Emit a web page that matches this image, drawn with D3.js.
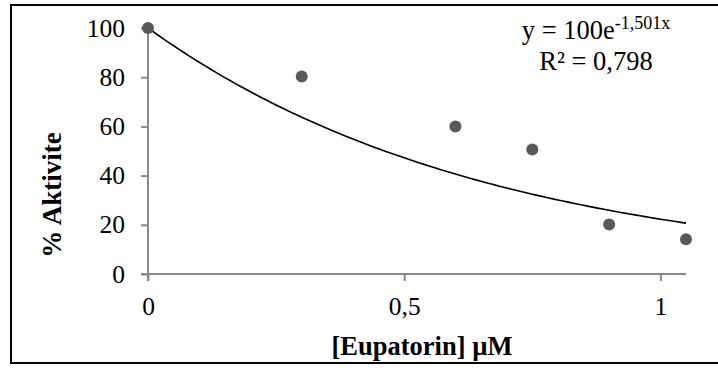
<!DOCTYPE html>
<html>
<head>
<meta charset="utf-8">
<script src="https://cdn.jsdelivr.net/npm/d3@7"></script>
<style>
  body { margin: 0; background: #fff; }
  svg { display: block; font-family: "Liberation Serif", "Times New Roman", serif; }
</style>
</head>
<body>
<svg id="chart"></svg>
<script>
// concentration (µM) and % activity
let concentrations = [0, 0.3, 0.6, 0.75, 0.9, 1.05];
let activity = [100, 80.3, 60, 50.6, 20.1, 14.1];
let xTicks = [0, 0.5, 1];
let yTicks = [0, 20, 40, 60, 80, 100];
let fitA = 100;
let fitB = -1.501;

let width = 718;
let height = 368;
let margin = { left: 148, right: 32, top: 28, bottom: 94 };

let svg = d3.select("#chart")
    .attr("width", width)
    .attr("height", height);

// outer frame (right edge runs off the picture)
svg.append("rect")
    .attr("x", 11)
    .attr("y", 5)
    .attr("width", width + 20)
    .attr("height", 358)
    .attr("fill", "none")
    .attr("stroke", "#000")
    .attr("stroke-width", 2);

let scaleX = d3.scaleLinear()
    .domain([0, 1.05])
    .range([margin.left, width - margin.right]);

let scaleY = d3.scaleLinear()
    .domain([0, 100])
    .range([height - margin.bottom, margin.top]);

let axisX = d3.axisBottom(scaleX)
    .tickValues(xTicks)
    .tickSize(7)
    .tickPadding(16)
    .tickFormat(d => String(d).replace(".", ","));

let axisY = d3.axisLeft(scaleY)
    .tickValues(yTicks)
    .tickSize(7)
    .tickPadding(16);

let gx = svg.append("g")
    .attr("transform", `translate(0, ${scaleY(0)})`)
    .call(axisX);

let gy = svg.append("g")
    .attr("transform", `translate(${scaleX(0)}, 0)`)
    .call(axisY);

[gx, gy].forEach(g => {
    g.select(".domain").attr("stroke", "#898989").attr("stroke-width", 2);
    g.selectAll(".tick line").attr("stroke", "#898989").attr("stroke-width", 2);
    g.selectAll(".tick text")
        .attr("fill", "#000")
        .style("font-family", "Liberation Serif")
        .style("font-size", "25.5px");
});
// excel axes: plain line without the d3 end caps
gx.select(".domain").attr("d", `M${scaleX(0) - 7},0H${scaleX(1.05)}`);
gy.select(".domain").attr("d", `M0,${scaleY(0) + 7}V${scaleY(100)}`);

// exponential trendline
let fitX = d3.range(0, 1.0501, 0.01);
let line = d3.line()
    .x(d => scaleX(d))
    .y(d => scaleY(fitA * Math.exp(fitB * d)));

svg.append("path")
    .datum(fitX)
    .attr("d", line)
    .attr("fill", "none")
    .attr("stroke", "#000")
    .attr("stroke-width", 1.6);

svg.append("g")
    .selectAll("circle")
    .data(concentrations)
    .join("circle")
    .attr("cx", d => scaleX(d))
    .attr("cy", (d, i) => scaleY(activity[i]))
    .attr("r", 6)
    .attr("fill", "#595959");

// equation label
let eq = svg.append("text")
    .attr("x", 596)
    .attr("y", 39)
    .attr("text-anchor", "middle")
    .style("font-size", "26.5px");
eq.append("tspan").text("y = 100e");
eq.append("tspan")
    .attr("dy", -10)
    .style("font-size", "18px")
    .text("-1,501x");

svg.append("text")
    .attr("x", 596)
    .attr("y", 70)
    .attr("text-anchor", "middle")
    .style("font-size", "26.5px")
    .text("R² = 0,798");

// axis titles
svg.append("text")
    .attr("x", 422)
    .attr("y", 355)
    .attr("text-anchor", "middle")
    .style("font-size", "26.5px")
    .style("font-weight", "bold")
    .text("[Eupatorin] µM");

svg.append("text")
    .attr("transform", `translate(61, 195) rotate(-90)`)
    .attr("text-anchor", "middle")
    .style("font-size", "27px")
    .style("font-weight", "bold")
    .text("% Aktivite");
</script>
</body>
</html>
